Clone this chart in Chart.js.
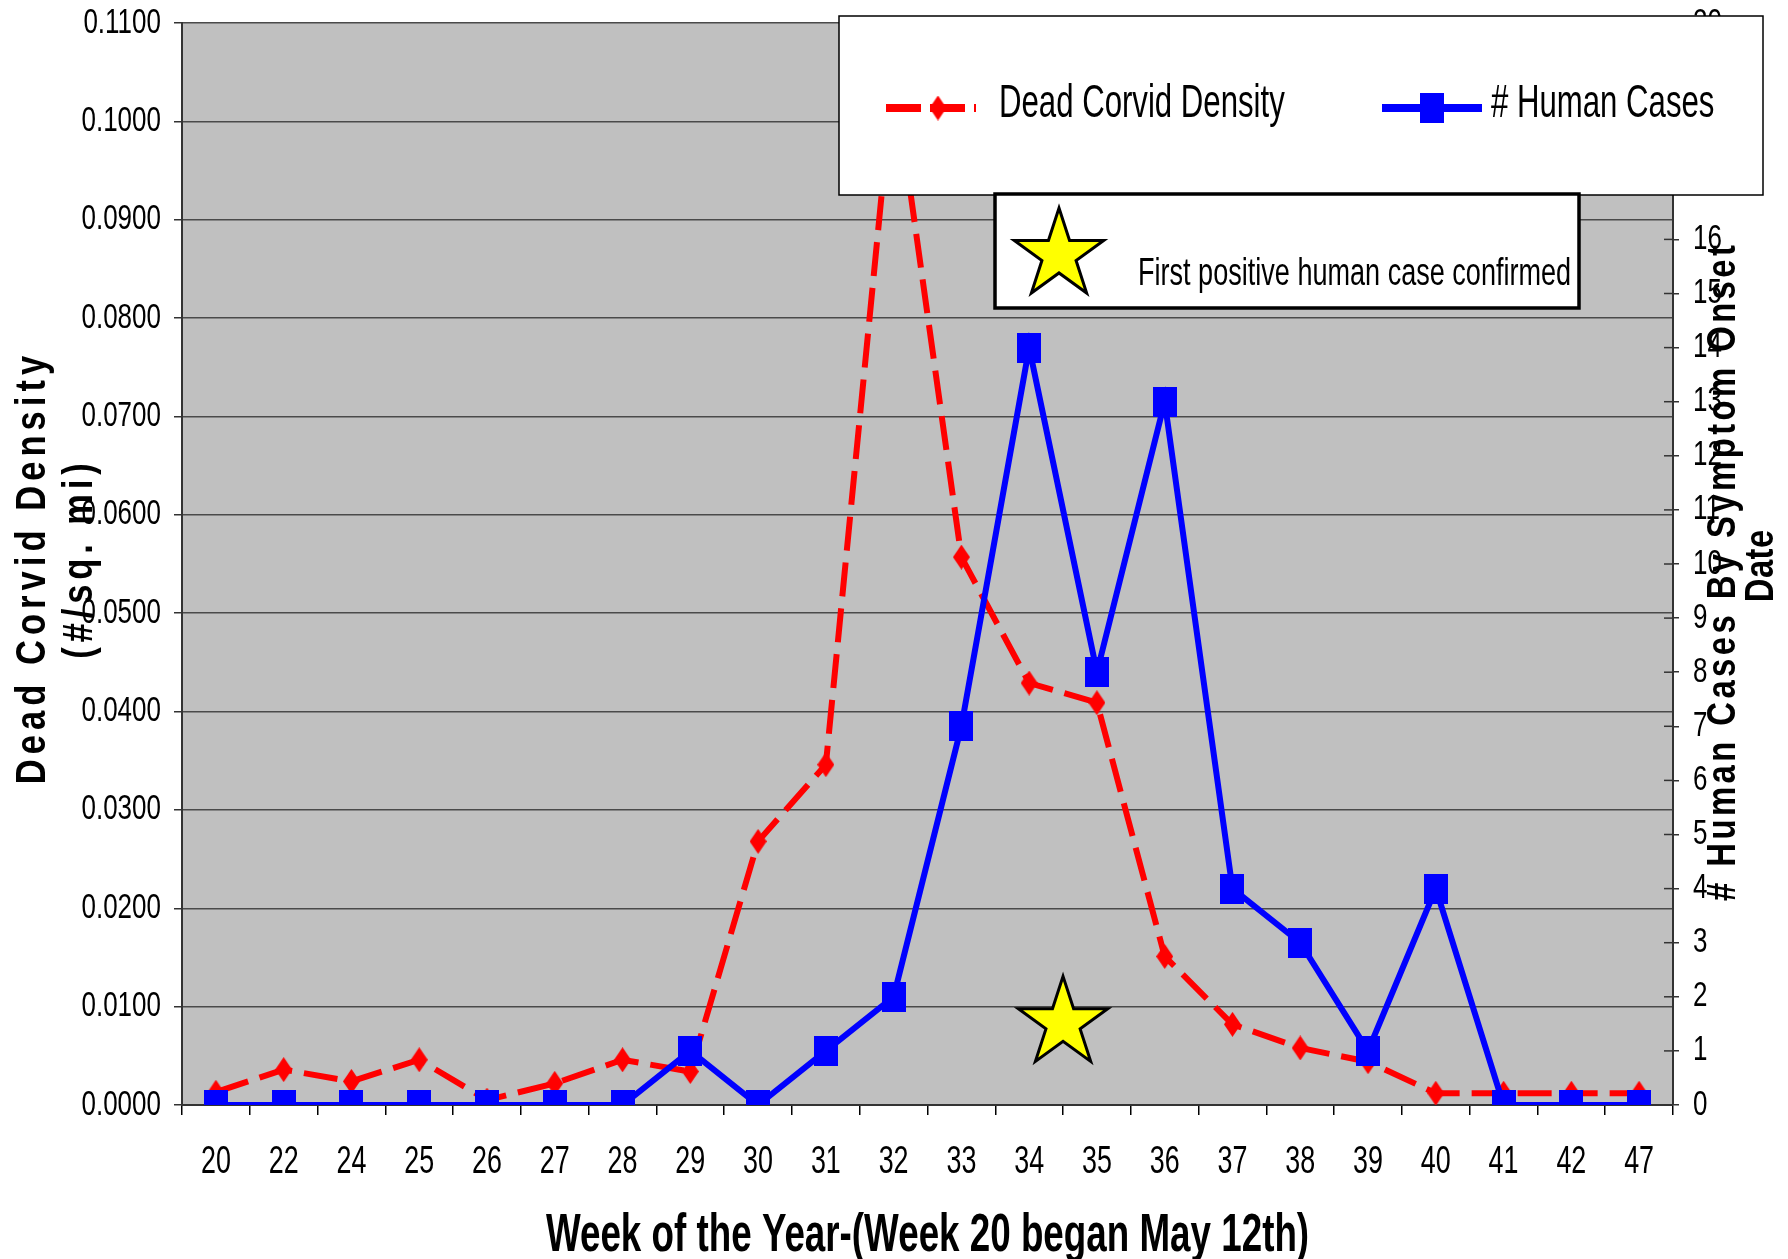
<!DOCTYPE html>
<html><head><meta charset="utf-8">
<script src="https://cdn.jsdelivr.net/npm/chart.js@4.4.1/dist/chart.umd.min.js"></script>
<style>html,body{margin:0;padding:0;background:#fff}#wrap{width:1788px;height:1259px;position:relative}</style>
</head><body><div id="wrap"><canvas id="c" width="1788" height="1259"></canvas></div>
<script>
const weeks = ['20','22','24','25','26','27','28','29','30','31','32','33','34','35','36','37','38','39','40','41','42','47'];
const corvidDensity = [0.0013,0.0036,0.0024,0.0046,0.0005,0.0022,0.0046,0.0034,0.0268,0.0346,0.1050,0.0557,0.0429,0.0409,0.0151,0.0082,0.0058,0.0044,0.0012,0.0012,0.0012,0.0012];
const humanCases = [0,0,0,0,0,0,0,1,0,1,2,7,14,8,13,4,3,1,4,0,0,0];
const seriesLabels = ['Dead Corvid Density', '# Human Cases'];
const leftAxisTitle = ['Dead Corvid Density', '(#/sq. mi)'];
const rightAxisTitle = ['# Human Cases By Symptom Onset', 'Date'];
const xAxisTitle = 'Week of the Year-(Week 20 began May 12th)';
const annotationText = 'First positive human case confirmed';
const starWeekIndex = 12.5;      // between week 34 and 35
const starDensity = 0.0083;

const SANS = '"Liberation Sans", Arial, sans-serif';

function makeMarker(w, h, color, shape) {
  const c = document.createElement('canvas'); c.width = w; c.height = h;
  const g = c.getContext('2d'); g.fillStyle = color;
  if (shape === 'diamond') { g.beginPath(); g.moveTo(w/2,0); g.lineTo(w,h/2); g.lineTo(w/2,h); g.lineTo(0,h/2); g.closePath(); g.fill(); }
  else g.fillRect(0,0,w,h);
  return c;
}
const diamond = makeMarker(17, 25, '#ff0000', 'diamond');
const square = makeMarker(24, 30, '#0000ff', 'square');

function drawStar(ctx, cx, cy, R) {
  const r = R * 0.382;
  ctx.save();
  ctx.beginPath();
  for (let i = 0; i < 10; i++) {
    const ang = -Math.PI/2 + i * Math.PI/5;
    const rad = i % 2 === 0 ? R : r;
    const px = cx + rad*Math.cos(ang), py = cy + rad*Math.sin(ang);
    if (i === 0) ctx.moveTo(px, py); else ctx.lineTo(px, py);
  }
  ctx.closePath();
  ctx.fillStyle = '#ffff00'; ctx.fill();
  ctx.lineWidth = 3; ctx.strokeStyle = '#000'; ctx.lineJoin = 'miter'; ctx.stroke();
  ctx.restore();
}

// text drawn with a horizontal / vertical stretch (the original uses a condensed, tall face)
function stretchedText(ctx, text, x, y, font, sx, sy, align, spacing) {
  ctx.save();
  ctx.translate(x, y);
  ctx.scale(sx, sy);
  ctx.font = font;
  ctx.letterSpacing = (spacing || 0) + 'px';
  ctx.textAlign = align || 'left';
  ctx.textBaseline = 'middle';
  ctx.fillStyle = '#000';
  ctx.fillText(text, 0, 0);
  ctx.restore();
}

function scaledLabels(sx, sy) {
  return function(chartArea) {
    const c = this.ctx;
    const items = this.getLabelItems(chartArea);
    for (const item of items) {
      const o = item.options;
      c.save();
      c.translate(o.translation[0], o.translation[1]);
      if (o.rotation) c.rotate(o.rotation);
      c.scale(sx, sy);
      c.font = item.font.string;
      c.fillStyle = o.color;
      c.textAlign = o.textAlign;
      c.textBaseline = o.textBaseline;
      c.fillText(item.label, 0, item.textOffset / sy);
      c.restore();
    }
  };
}

// vertical title: rotated -90deg, condensed along the text direction, letter-spaced
function verticalTitle(ctx, lines, cxs, cys, font, along, spacings) {
  lines.forEach((line, i) => {
    ctx.save();
    ctx.translate(cxs[i], cys[i]);
    ctx.rotate(-Math.PI / 2);
    ctx.scale(along, 1);
    ctx.font = font;
    ctx.letterSpacing = spacings[i] + 'px';
    ctx.textAlign = 'center'; ctx.textBaseline = 'middle';
    ctx.fillStyle = '#000';
    ctx.fillText(line, spacings[i] / 2, 0);
    ctx.restore();
  });
}

const plotBg = {
  id: 'plotBg',
  beforeDraw(chart) {
    const {ctx, chartArea: a} = chart;
    ctx.save(); ctx.fillStyle = '#c0c0c0';
    ctx.fillRect(a.left, a.top, a.right - a.left, a.bottom - a.top);
    ctx.restore();
    const {x, y, y1} = chart.scales;
    if (!x._patched) {
      x.drawLabels = scaledLabels(0.84, 1.22);
      x.drawTitle = function() {
        stretchedText(this.ctx, this.options.title.text, (this.left + this.right) / 2, this.bottom - 23,
          'bold 44px ' + SANS, 0.836, 1.2, 'center', 0);
      };
      x._patched = true;
    }
    if (!y._patched) {
      y.drawLabels = scaledLabels(1, 1.33);
      y.drawTitle = function() {
        const mid = (this.top + this.bottom) / 2;
        verticalTitle(this.ctx, this.options.title.text, [this.left + 33, this.left + 80], [mid + 6, mid - 3],
          'bold 42px ' + SANS, 0.82, [6.2, 6]);
      };
      y._patched = true;
    }
    if (!y1._patched) {
      y1.drawLabels = scaledLabels(1, 1.33);
      y1.drawTitle = function() {
        const mid = (this.top + this.bottom) / 2;
        verticalTitle(this.ctx, this.options.title.text, [this.left + 51, this.left + 89], [mid + 9, mid + 2],
          'bold 40px ' + SANS, 0.82, [4.2, 0.5]);
      };
      y1._patched = true;
    }
  },
  afterDatasetsDraw(chart) {
    const {ctx} = chart;
    const {x, y, y1} = chart.scales;
    // inner half of the crossing ticks on the right axis
    ctx.save(); ctx.strokeStyle = '#333'; ctx.lineWidth = 1.5;
    y1.ticks.forEach(t => {
      const py = y1.getPixelForValue(t.value);
      ctx.beginPath(); ctx.moveTo(y1.left - 9, py); ctx.lineTo(y1.left, py); ctx.stroke();
    });
    ctx.restore();
    // star marking first positive human case
    drawStar(ctx, x.getPixelForValue(starWeekIndex), y.getPixelForValue(starDensity), 47);
  },
  afterDraw(chart) {
    const {ctx} = chart;
    const ds = chart.data.datasets;
    ctx.save();
    // legend box
    ctx.fillStyle = '#fff'; ctx.fillRect(839, 16, 924, 179);
    ctx.strokeStyle = '#000'; ctx.lineWidth = 1.5; ctx.strokeRect(839, 16, 924, 179);
    const items = [
      {d: ds[0], x0: 886, x1: 976, mx: 938, tx: 999},
      {d: ds[1], x0: 1382, x1: 1482, mx: 1432, tx: 1491}
    ];
    items.forEach(it => {
      const ly = 108;
      ctx.save();
      ctx.strokeStyle = it.d.borderColor; ctx.lineWidth = 8;
      ctx.setLineDash(it.d.borderDash ? [35, 9] : []);
      ctx.beginPath(); ctx.moveTo(it.x0, ly); ctx.lineTo(it.x1, ly); ctx.stroke();
      ctx.restore();
      const img = it.d.pointStyle;
      ctx.drawImage(img, it.mx - img.width/2, ly - img.height/2);
      stretchedText(ctx, it.d.label, it.tx, 104, '38px ' + SANS, 0.82, 1.24, 'left', 0);
    });
    // annotation box
    ctx.fillStyle = '#fff'; ctx.fillRect(995, 194, 584, 114);
    ctx.strokeStyle = '#000'; ctx.lineWidth = 3.5; ctx.strokeRect(995, 194, 584, 114);
    drawStar(ctx, 1059, 255, 47);
    stretchedText(ctx, annotationText, 1138, 274, '33px ' + SANS, 0.82, 1.2, 'left', 0);
    ctx.restore();
  }
};

new Chart(document.getElementById('c'), {
  type: 'line',
  data: {
    labels: weeks,
    datasets: [
      {
        label: seriesLabels[0], data: corvidDensity, yAxisID: 'y', order: 2,
        borderColor: '#ff0000', borderWidth: 6, borderDash: [34, 12],
        pointStyle: diamond, pointRadius: 10, tension: 0, fill: false
      },
      {
        label: seriesLabels[1], data: humanCases, yAxisID: 'y1', order: 1,
        borderColor: '#0000ff', borderWidth: 6,
        pointStyle: square, pointRadius: 14, tension: 0, fill: false
      }
    ]
  },
  options: {
    responsive: false,
    animation: false,
    maintainAspectRatio: false,
    layout: { padding: { left: 0, right: 0, top: 23, bottom: 0 } },
    plugins: { legend: { display: false }, tooltip: { enabled: false }, title: { display: false } },
    scales: {
      x: {
        offset: true,
        grid: { display: true, offset: true, drawOnChartArea: false, tickLength: 10, color: '#000', lineWidth: 1.5 },
        border: { display: true, color: '#333', width: 2 },
        ticks: { color: '#000', font: { family: SANS, size: 32 }, padding: 28, maxRotation: 0, autoSkip: false },
        title: { display: true, text: xAxisTitle, color: '#000', font: { family: SANS, size: 44, weight: 'bold' }, padding: { top: 0, bottom: 1 } },
        afterFit(s) { s.height = 154; s.paddingLeft = 0; s.paddingRight = 0; }
      },
      y: {
        position: 'left', min: 0, max: 0.11,
        ticks: { stepSize: 0.01, color: '#000', font: { family: SANS, size: 26 }, padding: 13, callback: v => Number(v).toFixed(4) },
        grid: { color: '#4a4a4a', lineWidth: 1.5, tickLength: 8, tickColor: '#333' },
        border: { display: true, color: '#333', width: 2 },
        title: { display: true, text: leftAxisTitle, color: '#000', font: { family: SANS, size: 42, weight: 'bold' } },
        afterFit(s) { s.width = 182; s.paddingTop = 0; s.paddingBottom = 0; }
      },
      y1: {
        position: 'right', min: 0, max: 20,
        ticks: { stepSize: 1, color: '#000', font: { family: SANS, size: 26 }, padding: 14 },
        grid: { drawOnChartArea: false, tickLength: 6, tickColor: '#333', lineWidth: 1.5 },
        border: { display: true, color: '#333', width: 2 },
        title: { display: true, text: rightAxisTitle, color: '#000', font: { family: SANS, size: 40, weight: 'bold' } },
        afterFit(s) { s.width = 115; s.paddingTop = 0; s.paddingBottom = 0; }
      }
    }
  },
  plugins: [plotBg]
});
</script>
</body></html>
